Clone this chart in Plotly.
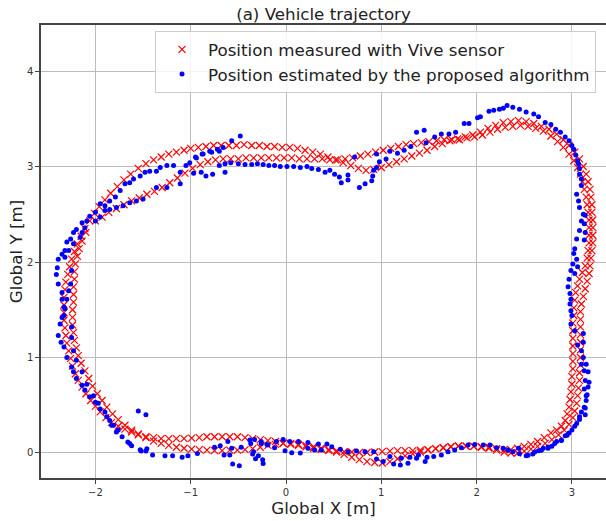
import plotly.graph_objects as go

# ---------------- data ----------------
title_text = "(a) Vehicle trajectory"
x_label = "Global X [m]"
y_label = "Global Y [m]"
series_names = ["Position measured with Vive sensor",
                "Position estimated by the proposed algorithm"]
x_ticks = [-2, -1, 0, 1, 2, 3]
y_ticks = [0, 1, 2, 3, 4]

# Vive sensor, lap 1 (outer track)
vive_lap1 = [
    (-1.00, 3.19), (-0.92, 3.20), (-0.84, 3.21), (-0.76, 3.22), (-0.68, 3.22), (-0.60, 3.22),
    (-0.52, 3.22), (-0.44, 3.23), (-0.36, 3.22), (-0.28, 3.22), (-0.20, 3.21), (-0.12, 3.21),
    (-0.04, 3.20), (0.04, 3.20), (0.12, 3.19), (0.20, 3.17), (0.28, 3.15), (0.36, 3.13),
    (0.44, 3.10), (0.52, 3.07), (0.60, 3.04), (0.68, 3.01), (0.76, 2.98), (0.84, 2.96),
    (0.92, 2.97), (1.00, 2.99), (1.08, 3.02), (1.16, 3.05), (1.24, 3.08), (1.32, 3.11),
    (1.40, 3.14), (1.48, 3.17), (1.56, 3.21), (1.64, 3.24), (1.72, 3.27), (1.80, 3.29),
    (1.88, 3.31), (1.96, 3.33), (2.04, 3.36), (2.12, 3.40), (2.20, 3.43), (2.28, 3.46),
    (2.36, 3.47), (2.44, 3.48), (2.52, 3.47), (2.60, 3.45), (2.68, 3.42), (2.76, 3.39),
    (2.84, 3.34), (2.91, 3.28), (2.97, 3.22), (3.03, 3.15), (3.08, 3.08), (3.12, 3.00),
    (3.15, 2.92), (3.17, 2.84), (3.19, 2.76), (3.20, 2.68), (3.21, 2.60), (3.21, 2.52),
    (3.22, 2.44), (3.22, 2.36), (3.22, 2.28), (3.22, 2.20), (3.21, 2.12), (3.20, 2.04),
    (3.19, 1.96), (3.18, 1.88), (3.16, 1.80), (3.14, 1.72), (3.12, 1.64), (3.10, 1.56),
    (3.09, 1.48), (3.09, 1.40), (3.09, 1.32), (3.09, 1.24), (3.09, 1.16), (3.09, 1.08),
    (3.09, 1.00), (3.09, 0.92), (3.08, 0.84), (3.08, 0.76), (3.07, 0.68), (3.06, 0.60),
    (3.05, 0.52), (3.03, 0.44), (3.01, 0.37), (2.97, 0.30), (2.92, 0.24), (2.86, 0.19),
    (2.79, 0.14), (2.72, 0.10), (2.64, 0.07), (2.57, 0.04), (2.50, 0.02), (2.43, 0.00),
    (2.36, 0.00), (2.29, 0.01), (2.21, 0.03), (2.13, 0.05), (2.05, 0.06), (1.97, 0.07),
    (1.89, 0.07), (1.81, 0.07), (1.73, 0.065), (1.65, 0.055), (1.57, 0.045), (1.49, 0.03),
    (1.41, 0.01), (1.33, -0.01), (1.25, -0.03), (1.17, -0.06), (1.09, -0.09), (1.01, -0.105),
    (0.93, -0.10), (0.85, -0.09), (0.77, -0.07), (0.69, -0.045), (0.61, -0.015), (0.53, 0.01),
    (0.45, 0.025), (0.37, 0.035), (0.29, 0.05), (0.21, 0.065), (0.13, 0.08), (0.05, 0.09),
    (-0.03, 0.10), (-0.11, 0.12), (-0.19, 0.13), (-0.27, 0.14), (-0.35, 0.15), (-0.43, 0.16),
    (-0.51, 0.17), (-0.59, 0.17), (-0.67, 0.17), (-0.75, 0.17), (-0.83, 0.17), (-0.91, 0.16),
    (-0.99, 0.155), (-1.07, 0.15), (-1.15, 0.15), (-1.23, 0.15), (-1.31, 0.15), (-1.39, 0.16),
    (-1.47, 0.17), (-1.55, 0.19), (-1.62, 0.22), (-1.69, 0.25), (-1.76, 0.28), (-1.83, 0.32),
    (-1.89, 0.37), (-1.95, 0.43), (-2.00, 0.49), (-2.05, 0.55), (-2.10, 0.62), (-2.14, 0.69),
    (-2.18, 0.76), (-2.21, 0.83), (-2.24, 0.91), (-2.26, 0.99), (-2.28, 1.07), (-2.30, 1.15),
    (-2.31, 1.23), (-2.32, 1.31), (-2.33, 1.39), (-2.33, 1.47), (-2.33, 1.55), (-2.33, 1.63),
    (-2.32, 1.71), (-2.31, 1.79), (-2.29, 1.87), (-2.27, 1.95), (-2.25, 2.03), (-2.22, 2.11),
    (-2.19, 2.19), (-2.15, 2.27), (-2.11, 2.35), (-2.06, 2.43), (-2.01, 2.51), (-1.96, 2.58),
    (-1.90, 2.65), (-1.84, 2.72), (-1.77, 2.79), (-1.70, 2.86), (-1.63, 2.92), (-1.55, 2.98),
    (-1.47, 3.03), (-1.39, 3.07), (-1.31, 3.10), (-1.23, 3.13), (-1.15, 3.15), (-1.07, 3.17),
]

# Vive sensor, lap 2 (inner track)
vive_lap2 = [
    (-2.00, 2.43), (-1.93, 2.47), (-1.86, 2.52), (-1.78, 2.56), (-1.70, 2.60), (-1.62, 2.64),
    (-1.54, 2.67), (-1.46, 2.71), (-1.38, 2.74), (-1.30, 2.78), (-1.22, 2.83), (-1.14, 2.88),
    (-1.06, 2.93), (-0.98, 2.98), (-0.90, 3.02), (-0.82, 3.05), (-0.74, 3.07), (-0.66, 3.08),
    (-0.58, 3.08), (-0.50, 3.08), (-0.42, 3.09), (-0.34, 3.09), (-0.26, 3.09), (-0.18, 3.09),
    (-0.10, 3.09), (-0.02, 3.09), (0.06, 3.09), (0.14, 3.08), (0.22, 3.08), (0.30, 3.08),
    (0.38, 3.08), (0.46, 3.07), (0.54, 3.07), (0.62, 3.08), (0.70, 3.09), (0.78, 3.11),
    (0.86, 3.13), (0.94, 3.15), (1.02, 3.17), (1.10, 3.19), (1.18, 3.21), (1.26, 3.23),
    (1.34, 3.24), (1.42, 3.25), (1.50, 3.26), (1.58, 3.27), (1.66, 3.28), (1.74, 3.28),
    (1.82, 3.28), (1.90, 3.30), (1.98, 3.31), (2.06, 3.33), (2.14, 3.36), (2.22, 3.39),
    (2.30, 3.41), (2.38, 3.42), (2.46, 3.43), (2.54, 3.42), (2.62, 3.40), (2.70, 3.37),
    (2.78, 3.32), (2.85, 3.26), (2.91, 3.20), (2.97, 3.13), (3.02, 3.06), (3.06, 2.99),
    (3.09, 2.92), (3.11, 2.84), (3.13, 2.76), (3.15, 2.68), (3.16, 2.60), (3.17, 2.52),
    (3.18, 2.44), (3.18, 2.36), (3.18, 2.28), (3.18, 2.20), (3.17, 2.12), (3.16, 2.04),
    (3.14, 1.96), (3.11, 1.89), (3.08, 1.82), (3.06, 1.75), (3.04, 1.68), (3.03, 1.60),
    (3.02, 1.52), (3.02, 1.44), (3.01, 1.36), (3.01, 1.28), (3.01, 1.20), (3.01, 1.12),
    (3.01, 1.04), (3.01, 0.96), (3.01, 0.88), (3.00, 0.80), (3.00, 0.72), (2.99, 0.64),
    (2.98, 0.56), (2.97, 0.48), (2.95, 0.41), (2.93, 0.34), (2.89, 0.28), (2.84, 0.24),
    (2.78, 0.21), (2.71, 0.16), (2.64, 0.12), (2.57, 0.09), (2.50, 0.07), (2.43, 0.05),
    (2.36, 0.035), (2.29, 0.035), (2.21, 0.045), (2.13, 0.06), (2.05, 0.065), (1.97, 0.07),
    (1.89, 0.075), (1.81, 0.075), (1.73, 0.065), (1.65, 0.055), (1.57, 0.045), (1.49, 0.035),
    (1.41, 0.03), (1.33, 0.025), (1.25, 0.025), (1.17, 0.025), (1.09, 0.02), (1.01, 0.015),
    (0.93, 0.01), (0.85, 0.005), (0.77, 0.005), (0.69, 0.01), (0.61, 0.015), (0.53, 0.025),
    (0.45, 0.035), (0.37, 0.05), (0.29, 0.065), (0.21, 0.08), (0.13, 0.09), (0.05, 0.10),
    (-0.03, 0.10), (-0.11, 0.09), (-0.19, 0.08), (-0.27, 0.06), (-0.35, 0.045), (-0.43, 0.035),
    (-0.51, 0.03), (-0.59, 0.03), (-0.67, 0.025), (-0.75, 0.025), (-0.83, 0.03), (-0.91, 0.035),
    (-0.99, 0.04), (-1.07, 0.05), (-1.15, 0.06), (-1.23, 0.08), (-1.31, 0.10), (-1.39, 0.125),
    (-1.47, 0.16), (-1.55, 0.20), (-1.62, 0.24), (-1.69, 0.29), (-1.76, 0.35), (-1.82, 0.41),
    (-1.88, 0.48), (-1.93, 0.55), (-1.98, 0.62), (-2.03, 0.70), (-2.07, 0.78), (-2.11, 0.86),
    (-2.15, 0.94), (-2.18, 1.02), (-2.20, 1.10), (-2.22, 1.18), (-2.23, 1.26), (-2.24, 1.34),
    (-2.24, 1.42), (-2.24, 1.50), (-2.23, 1.58), (-2.23, 1.66), (-2.23, 1.74), (-2.22, 1.82),
    (-2.22, 1.90), (-2.21, 1.98), (-2.19, 2.06), (-2.17, 2.14), (-2.14, 2.22), (-2.10, 2.31),
]

# Estimated positions: top edge
est_top = [
    (-0.95, 3.10), (-0.88, 3.13), (-0.80, 3.16), (-0.72, 3.18), (-0.66, 3.20), (-0.57, 3.27),
    (-0.48, 3.32), (-0.70, 3.01), (-0.64, 3.03), (-0.58, 3.04), (-0.50, 3.03), (-0.43, 3.02),
    (-0.36, 3.02), (-0.30, 3.03), (-0.24, 3.02), (-0.18, 3.01), (-0.12, 3.01), (-0.06, 3.00),
    (0.01, 3.00), (0.08, 3.00), (0.15, 2.99), (0.22, 3.00), (0.27, 2.98), (0.34, 2.97),
    (0.41, 2.94), (0.46, 2.96), (0.51, 2.92), (0.56, 2.89), (0.58, 2.83), (0.65, 2.86),
    (0.65, 2.91), (0.72, 3.10), (0.77, 2.78), (0.83, 2.82), (0.90, 2.85), (0.91, 2.90),
    (0.92, 2.96), (0.95, 2.99), (0.98, 3.05), (0.95, 3.13), (1.05, 3.08), (1.09, 3.16),
    (1.17, 3.14), (1.24, 3.17), (1.31, 3.21), (1.37, 3.36), (1.45, 3.38), (1.47, 3.25),
    (1.56, 3.31), (1.63, 3.34), (1.71, 3.34), (1.78, 3.36), (1.87, 3.45), (1.92, 3.45),
    (2.01, 3.51), (2.04, 3.52), (2.13, 3.58), (2.18, 3.59), (2.24, 3.60), (2.28, 3.61),
    (2.32, 3.64), (2.38, 3.62), (2.45, 3.60), (2.52, 3.57), (2.60, 3.55), (2.65, 3.52),
    (2.72, 3.46), (2.78, 3.44), (2.83, 3.39), (2.88, 3.36), (2.93, 3.31), (2.97, 3.27),
    (3.00, 3.22), (3.02, 3.18), (3.04, 3.12), (3.06, 3.06), (3.07, 3.03),
    (-0.84, 2.90), (-0.77, 2.92), (-0.89, 2.94), (-0.64, 2.94), (-0.97, 2.93),
]

# Estimated positions: right edge
est_right = [
    (3.08, 2.98), (3.08, 2.92), (3.10, 2.87), (3.10, 2.80), (3.05, 2.71), (3.07, 2.64),
    (3.08, 2.57), (3.12, 2.50), (3.14, 2.49), (3.10, 2.43), (3.13, 2.40), (3.08, 2.33),
    (3.14, 2.31), (3.05, 2.24), (3.13, 2.23), (3.03, 2.14), (3.02, 2.09), (3.05, 2.03),
    (3.01, 1.98), (3.06, 1.95), (2.99, 1.91), (3.03, 1.88), (2.97, 1.82), (2.96, 1.74),
    (2.98, 1.67), (2.99, 1.61), (2.98, 1.56), (2.99, 1.49), (3.00, 1.44), (2.99, 1.35),
    (3.03, 1.28), (3.12, 1.25), (3.12, 1.16), (3.06, 1.13), (3.10, 1.07), (3.12, 1.00),
    (3.10, 0.93), (3.15, 0.93), (3.13, 0.86), (3.17, 0.85), (3.14, 0.76), (3.18, 0.74),
    (3.13, 0.67), (3.15, 0.60), (3.15, 0.55), (3.13, 0.48), (3.10, 0.43), (3.08, 0.38),
    (3.05, 0.31), (3.00, 0.24), (2.95, 0.185), (2.89, 0.13), (2.82, 0.10), (2.75, 0.063),
    (2.68, 0.028), (2.61, 0.01), (2.54, -0.024), (2.45, -0.007),
    (2.97, 0.21), (2.93, 0.18), (2.89, 0.136), (2.84, 0.12), (2.79, 0.07), (3.03, 0.28),
    (3.08, 0.35), (3.14, 0.40), (3.14, 0.47), (3.16, 0.61), (3.17, 0.69),
]

# Estimated positions: bottom edge
est_bottom = [
    (2.75, 0.05), (2.70, 0.05), (2.65, 0.024), (2.59, -0.01), (2.52, -0.03), (2.44, 0.05),
    (2.38, 0.014), (2.33, 0.03), (2.28, 0.05), (2.21, 0.056), (2.14, 0.084), (2.07, 0.084),
    (1.98, 0.09), (1.91, 0.084), (1.84, 0.056), (1.77, 0.03), (1.70, 0.014), (1.63, -0.02),
    (1.55, -0.038), (1.48, -0.045), (1.46, -0.09), (1.39, -0.02), (1.37, -0.056),
    (1.30, -0.045), (1.28, -0.108), (1.21, -0.056), (1.20, -0.126), (1.13, -0.115),
    (1.09, -0.038), (1.02, -0.09), (0.95, -0.063), (0.92, 0.014), (0.83, 0.014), (0.74, 0.02),
    (0.65, 0.014), (0.57, 0.038), (0.48, 0.066), (0.43, 0.094), (0.37, 0.03), (0.34, 0.094),
    (0.30, 0.03), (0.23, 0.05), (0.23, 0.11), (0.15, 0.0), (0.13, 0.12), (0.06, 0.003),
    (0.04, 0.12), (-0.01, 0.024), (-0.03, 0.14), (-0.10, 0.12), (-0.19, 0.084), (-0.26, 0.10),
    (-0.33, 0.14), (-0.38, 0.136), (-0.34, 0.014), (-0.29, -0.03), (-0.245, -0.07),
    (-0.12, 0.055), (-0.20, 0.09), (-0.26, 0.12), (-0.37, 0.10), (-0.24, -0.11), (-0.32, -0.06),
    (-0.35, -0.01), (-0.49, -0.135), (-0.56, -0.115), (-0.47, 0.06), (-0.57, 0.05),
    (-0.61, 0.12), (-0.59, -0.02), (-0.65, -0.02), (-0.69, 0.075), (-0.75, 0.06),
    (-0.93, -0.005), (-1.03, -0.03), (-1.09, -0.045), (-1.19, -0.03), (-1.27, -0.03),
    (-1.40, -0.02), (-1.47, 0.02), (-1.52, 0.02), (-1.62, 0.075), (-1.66, 0.116),
    (-1.55, 0.44), (-1.47, 0.40),
]

# Estimated positions: left edge
est_left = [
    (-1.53, 0.035), (-1.46, 0.045), (-1.64, 0.10), (-1.72, 0.17), (-1.78, 0.22), (-1.83, 0.29),
    (-1.88, 0.38), (-1.95, 0.46), (-1.97, 0.52), (-2.02, 0.60), (-2.09, 0.72), (-2.14, 0.85),
    (-2.20, 0.97), (-2.23, 1.07), (-2.25, 1.21), (-2.25, 1.32), (-2.33, 1.44), (-2.32, 1.51),
    (-2.30, 1.61), (-2.28, 1.70), (-2.26, 1.77), (-2.25, 1.91), (-2.32, 2.05), (-2.28, 2.12),
    (-2.23, 2.19), (-2.16, 2.26), (-2.14, 2.31), (-2.11, 2.36), (-2.00, 2.43), (-1.95, 2.47),
    (-1.90, 2.54), (-1.85, 2.55), (-1.78, 2.57), (-1.71, 2.59), (-1.64, 2.62), (-1.57, 2.64),
    (-1.50, 2.66), (-1.36, 2.78), (-1.25, 2.78), (-1.11, 2.82),
    (-1.76, 0.24), (-1.81, 0.29), (-1.85, 0.34), (-1.90, 0.43), (-2.00, 0.53), (-2.06, 0.59),
    (-2.11, 0.66), (-2.14, 0.71), (-2.20, 0.78), (-2.23, 0.85), (-2.25, 0.90), (-2.30, 1.00),
    (-2.33, 1.11), (-2.36, 1.16), (-2.39, 1.23), (-2.37, 1.35), (-2.35, 1.42), (-2.33, 1.53),
    (-2.35, 1.61), (-2.35, 1.68), (-2.39, 1.77), (-2.41, 1.87), (-2.40, 1.94), (-2.39, 2.03),
    (-2.35, 2.08), (-2.32, 2.12), (-2.30, 2.21), (-2.26, 2.24), (-2.23, 2.31), (-2.20, 2.34),
    (-2.14, 2.41), (-2.09, 2.43), (-2.06, 2.48), (-2.00, 2.52), (-1.95, 2.61), (-1.90, 2.59),
    (-1.85, 2.64), (-1.79, 2.68), (-1.74, 2.75), (-1.69, 2.82), (-1.64, 2.83), (-1.60, 2.87),
    (-1.53, 2.90), (-1.48, 2.94), (-1.43, 2.95), (-1.36, 2.95), (-1.32, 2.99), (-1.25, 3.01),
    (-1.18, 3.01), (-1.11, 2.94), (-1.05, 3.01), (-1.01, 3.04), (-0.94, 3.09), (-0.87, 3.13),
    (-0.78, 3.15), (-0.70, 3.16),
]

# ---------------- figure ----------------
vive = vive_lap1 + vive_lap2
est = est_top + est_right + est_bottom + est_left

FONT = "DejaVu Sans"

fig = go.Figure()
fig.add_trace(go.Scatter(
    x=[p[0] for p in vive], y=[p[1] for p in vive], mode="markers",
    name=series_names[0],
    marker=dict(symbol="x-thin", size=7, color="red",
                line=dict(color="red", width=1.2)),
))
fig.add_trace(go.Scatter(
    x=[p[0] for p in est], y=[p[1] for p in est], mode="markers",
    name=series_names[1],
    marker=dict(symbol="circle", size=5, color="blue", line=dict(width=0)),
))

axis_common = dict(
    showgrid=True, gridcolor="#bcbcbc", gridwidth=1,
    zeroline=False, showline=True, linecolor="#444444", linewidth=1.5,
    ticks="outside", ticklen=4, tickwidth=1, tickcolor="#444444",
    tickfont=dict(family=FONT, size=10, color="#333333"),
)

fig.update_layout(
    width=606, height=521,
    margin=dict(l=41, r=0, t=25, b=43, autoexpand=False),
    paper_bgcolor="white", plot_bgcolor="white",
    font=dict(family=FONT, color="#222222"),
    title=dict(text=title_text, x=(41 + 606) / 2 / 606, xanchor="center",
               y=1 - 14 / 521, yanchor="middle",
               font=dict(family=FONT, size=16.7, color="#222222")),
    xaxis=dict(range=[-2.571, 3.358], tickvals=x_ticks, mirror=True,
               title=dict(text=x_label, standoff=0,
                          font=dict(family=FONT, size=16.7, color="#222222")),
               **axis_common),
    yaxis=dict(range=[-0.262, 4.482], tickvals=y_ticks,
               title=dict(text=y_label, standoff=0,
                          font=dict(family=FONT, size=16.7, color="#222222")),
               **axis_common),
    legend=dict(x=(155 - 41) / 565, y=(478 - 31) / 453, xanchor="left", yanchor="top",
                bgcolor="rgba(255,255,255,0.85)", bordercolor="#cccccc", borderwidth=1,
                font=dict(family=FONT, size=16.7, color="#222222"),
                itemwidth=42),
    showlegend=True,
)

fig.write_html("out.html", config={"displayModeBar": False},
               post_script="document.body.style.margin='0px';document.body.style.overflow='hidden';")
